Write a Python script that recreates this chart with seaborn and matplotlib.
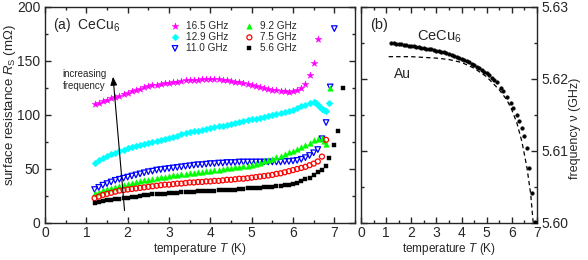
import numpy as np
import pandas as pd
import matplotlib
matplotlib.use("Agg")
import matplotlib.pyplot as plt
import seaborn as sns
from matplotlib.ticker import MultipleLocator

# ---------------- data: panel (a) ----------------
T_main = [1.2, 1.3, 1.4, 1.5, 1.6, 1.7, 1.8, 1.9, 2.0, 2.1,
          2.2, 2.3, 2.4, 2.5, 2.6, 2.7, 2.8, 2.9, 3.0, 3.1,
          3.2, 3.3, 3.4, 3.5, 3.6, 3.7, 3.8, 3.9, 4.0, 4.1,
          4.2, 4.3, 4.4, 4.5, 4.6, 4.7, 4.8, 4.9, 5.0, 5.1,
          5.2, 5.3, 5.4, 5.5, 5.6, 5.7, 5.8, 5.9, 6.0, 6.1,
          6.2, 6.3, 6.4]

R_165 = [110, 111.5, 113, 114, 115.5, 117, 118, 119.5, 120.5, 122,
         123, 124.5, 125.5, 126.5, 127.5, 128, 129, 129.5, 130, 130.5,
         131, 131.5, 132, 132, 132.5, 132.5, 133, 133, 133, 133,
         133, 132.5, 132, 131.5, 131, 130.5, 130, 129, 128, 127,
         126, 125, 124.5, 123.5, 123, 122.5, 122, 121.5, 122, 123,
         125, 129, 137]
T_165_tail = [6.5, 6.6]
R_165_tail = [148, 170]

R_129 = [55.5, 58, 60, 62, 63.5, 65, 66.5, 68, 69, 70,
         71, 72, 73, 74, 75, 76, 77, 78, 79, 80,
         81, 82, 83, 84, 85, 85.5, 86.5, 87, 88, 88.5,
         89.5, 90, 91, 92, 92.5, 93.5, 94, 95, 96, 96.5,
         97.5, 98, 99, 100, 101, 102, 103, 104, 105, 106.5,
         108, 109.5, 111]
T_129_tail = [6.5, 6.55, 6.6, 6.65, 6.7, 6.75, 6.8, 6.88]
R_129_tail = [112, 111, 109, 107.5, 106, 105, 104, 111]

R_110 = [31, 33, 35, 36.5, 38, 39.5, 40.5, 41.5, 42.5, 43.5,
         44.5, 45.5, 46.5, 47.5, 48, 49, 49.5, 50, 50.5, 51,
         51.5, 52, 52.5, 53, 53.5, 54, 54, 54.5, 55, 55,
         55.5, 55.5, 56, 56, 56, 56.5, 56.5, 56.5, 56.5, 56.5,
         56.5, 56.5, 56.5, 56.5, 56.5, 56.5, 57, 57, 57.5, 58,
         59, 60.5, 62.5]
T_110_tail = [6.5, 6.6, 6.7, 6.8, 6.9, 7.0]
R_110_tail = [65, 68, 78, 93, 126, 180]

R_92 = [27.5, 29, 30.5, 31.5, 32.5, 33.5, 34.5, 35.5, 36.5, 37,
        38, 38.5, 39.5, 40, 41, 41.5, 42.5, 43, 43.5, 44,
        44.5, 45, 45.5, 46, 46.5, 47, 47.5, 48, 48.5, 49,
        49.5, 50, 50.5, 51, 51.5, 52, 52.5, 53, 54, 55,
        56, 57, 58, 59.5, 61, 62.5, 64, 65.5, 67, 68.5,
        70.5, 72.5, 74.5]
T_92_tail = [6.5, 6.6, 6.7, 6.75, 6.8, 6.9]
R_92_tail = [76.5, 78, 78.5, 76, 73, 125]

R_75 = [23, 24.5, 26, 27, 28, 29, 30, 30.5, 31, 31.5,
        32, 32.5, 33, 33.5, 34, 34.5, 35, 35.5, 35.5, 36,
        36.5, 36.5, 37, 37.5, 37.5, 38, 38, 38.5, 38.5, 39,
        39, 39.5, 40, 40, 40.5, 41, 41, 41.5, 42, 42.5,
        43, 43.5, 44, 44.5, 45.5, 46, 47, 48, 49, 50,
        51, 52, 53.5]
T_75_tail = [6.5, 6.6, 6.7, 6.8]
R_75_tail = [55, 57, 61.5, 77]

R_56 = [18.5, 19.5, 20.5, 21, 21.5, 22, 22.5, 23, 23.5, 24,
        24.5, 25, 25.5, 26, 26.5, 26.5, 27, 27, 27.5, 28,
        28, 28.5, 28.5, 29, 29, 29.5, 29.5, 30, 30, 30,
        30.5, 30.5, 31, 31, 31, 31.5, 31.5, 32, 32, 32,
        32.5, 33, 33, 33.5, 34, 34.5, 35, 35.5, 36.5, 37.5,
        39, 40.5, 42]
T_56_tail = [6.5, 6.6, 6.7, 6.8, 6.88, 7.0, 7.1, 7.2]
R_56_tail = [44, 47, 49.5, 53, 60, 72, 85, 125]

labels = ["16.5 GHz", "12.9 GHz", "11.0 GHz", "9.2 GHz", "7.5 GHz", "5.6 GHz"]

# ---------------- data: panel (b) ----------------
T_ce = [1.2, 1.3, 1.4, 1.5, 1.6, 1.7, 1.8, 1.9, 2.0, 2.1,
        2.2, 2.3, 2.4, 2.5, 2.6, 2.7, 2.8, 2.9, 3.0, 3.1,
        3.2, 3.3, 3.4, 3.5, 3.6, 3.7, 3.8, 3.9, 4.0, 4.1,
        4.2, 4.3, 4.4, 4.5, 4.6, 4.7, 4.8, 4.9, 5.0, 5.1,
        5.2, 5.3, 5.4, 5.55, 5.65, 5.8, 5.95, 6.05, 6.2, 6.3,
        6.42, 6.5, 6.6, 6.7, 6.8, 6.93]
nu_ce = [5.6250, 5.62495, 5.6249, 5.62485, 5.6248, 5.62475, 5.6247, 5.62465, 5.6246, 5.62455,
         5.6245, 5.6244, 5.62435, 5.6243, 5.6242, 5.62415, 5.6241, 5.6240, 5.62395, 5.6239,
         5.6238, 5.6237, 5.6236, 5.6235, 5.6234, 5.6232, 5.6231, 5.6229, 5.6228, 5.6226,
         5.6225, 5.6223, 5.6221, 5.6219, 5.6217, 5.6215, 5.6213, 5.6210, 5.6208, 5.6205,
         5.6202, 5.6199, 5.6196, 5.6188, 5.6183, 5.6175, 5.6167, 5.6160, 5.6150, 5.6142,
         5.6132, 5.6121, 5.6104, 5.6077, 5.6042, 5.6001]

T_au = [1.1, 1.5, 2.0, 2.5, 3.0, 3.5, 4.0, 4.5, 5.0, 5.5, 5.8, 6.0, 6.2, 6.4, 6.6, 6.75, 6.85]
nu_au = [5.6231, 5.6231, 5.6231, 5.6230, 5.6229, 5.6227, 5.6223, 5.6215, 5.6203, 5.6185,
         5.6171, 5.6157, 5.6139, 5.6113, 5.6077, 5.6040, 5.6000]

# ---------------- style ----------------
sns.set_style("ticks")
plt.rcParams["font.family"] = ["Liberation Sans", "DejaVu Sans"]
plt.rcParams["mathtext.fontset"] = "custom"
plt.rcParams["mathtext.rm"] = "Liberation Sans"
plt.rcParams["mathtext.it"] = "Liberation Sans:italic"
plt.rcParams["axes.linewidth"] = 1.0

fig = plt.figure(figsize=(5.88, 2.6), dpi=100)
ax1 = fig.add_axes([45 / 588, 37 / 260, 310 / 588, 216 / 260])
ax2 = fig.add_axes([361 / 588, 37 / 260, 176 / 588, 216 / 260])

series = [
    (T_main + T_165_tail, R_165 + R_165_tail, "*", "#FF00FF", True, 26),
    (T_main + T_129_tail, R_129 + R_129_tail, "D", "#00FFFF", True, 12),
    (T_main + T_110_tail, R_110 + R_110_tail, "v", "#0000FF", False, 16),
    (T_main + T_92_tail, R_92 + R_92_tail, "^", "#00FF00", True, 16),
    (T_main + T_75_tail, R_75 + R_75_tail, "o", "#FF0000", False, 13),
    (T_main + T_56_tail, R_56 + R_56_tail, "s", "#000000", True, 11),
]

for (tx, ry, mk, col, filled, size), lab in zip(series, labels):
    df = pd.DataFrame({"T": tx, "R": ry})
    if filled:
        sns.scatterplot(data=df, x="T", y="R", ax=ax1, marker=mk, s=size,
                        color=col, edgecolor=col, linewidth=0.3, label=lab, zorder=3)
    else:
        sns.scatterplot(data=df, x="T", y="R", ax=ax1, marker=mk, s=size,
                        color=col, facecolor="none", edgecolor=col, linewidth=0.9,
                        label=lab, zorder=3)

ax1.set_xlim(0, 7.5)
ax1.set_ylim(0, 200)
ax1.xaxis.set_major_locator(MultipleLocator(1))
ax1.xaxis.set_minor_locator(MultipleLocator(0.5))
ax1.yaxis.set_major_locator(MultipleLocator(50))
ax1.yaxis.set_minor_locator(MultipleLocator(25))
ax1.tick_params(which="both", direction="in", top=True, right=True, labelsize=10, width=1)
ax1.tick_params(which="major", length=4)
ax1.tick_params(which="minor", length=2.5)
ax1.tick_params(axis="x", pad=2)
ax1.set_xlabel("temperature $\\mathit{T}$ (K)", fontsize=8.5, labelpad=1)
ax1.set_ylabel("surface resistance $\\mathit{R}_\\mathrm{S}$ (m\u03a9)", fontsize=9.5)
ax1.yaxis.set_label_coords(-0.086, 0.546)

leg = ax1.legend(loc="upper left", bbox_to_anchor=(170 / 588, 1 - 21 / 260),
                 bbox_transform=fig.transFigure, ncol=2, frameon=False, fontsize=7.2,
                 handlelength=1.0, handletextpad=0.6, columnspacing=1.6,
                 labelspacing=0.1, borderpad=0, borderaxespad=0, markerscale=1.0)

ax1.text(0.19, 180, "(a)  CeCu$_6$", fontsize=10, va="baseline", ha="left")
ax1.text(0.43, 143, "increasing\nfrequency", fontsize=7, va="top", ha="left", linespacing=1.3)
ax1.annotate("", xy=(1.64, 138), xytext=(1.93, 9),
             arrowprops=dict(arrowstyle="-|>,head_length=0.5,head_width=0.2", lw=0.8, color="black"))

# ---------------- panel (b) ----------------
dfc = pd.DataFrame({"T": T_ce, "nu": nu_ce})
dfa = pd.DataFrame({"T": T_au, "nu": nu_au})
sns.lineplot(data=dfa, x="T", y="nu", ax=ax2, color="black", lw=0.9,
             linestyle=(0, (3.5, 2.5)), sort=False, estimator=None)
sns.scatterplot(data=dfc, x="T", y="nu", ax=ax2, color="black", s=7,
                edgecolor="black", linewidth=0.3, zorder=3)

ax2.set_xlim(0, 7)
ax2.set_ylim(5.60, 5.63)
ax2.xaxis.set_major_locator(MultipleLocator(1))
ax2.xaxis.set_minor_locator(MultipleLocator(0.5))
ax2.yaxis.set_major_locator(MultipleLocator(0.01))
ax2.yaxis.set_minor_locator(MultipleLocator(0.005))
ax2.yaxis.set_major_formatter(matplotlib.ticker.FormatStrFormatter("%.2f"))
ax2.tick_params(which="both", direction="in", top=True, right=True, left=True,
                labelleft=False, labelright=True, labelsize=10, width=1)
ax2.tick_params(which="major", length=4)
ax2.tick_params(which="minor", length=2.5)
ax2.tick_params(axis="x", pad=2)
ax2.yaxis.set_label_position("right")
ax2.set_xlabel("temperature $\\mathit{T}$ (K)", fontsize=8.5, labelpad=1)
ax2.set_ylabel("frequency \u03bd (GHz)", fontsize=9)
ax2.yaxis.set_label_coords(1.182, 0.44)

ax2.text(0.36, 5.6269, "(b)", fontsize=10.5, va="baseline", ha="left")
ax2.text(2.23, 5.6254, "CeCu$_6$", fontsize=10.5, va="baseline", ha="left")
ax2.text(1.31, 5.6201, "Au", fontsize=10, va="baseline", ha="left")

fig.savefig("out.png", dpi=100)
